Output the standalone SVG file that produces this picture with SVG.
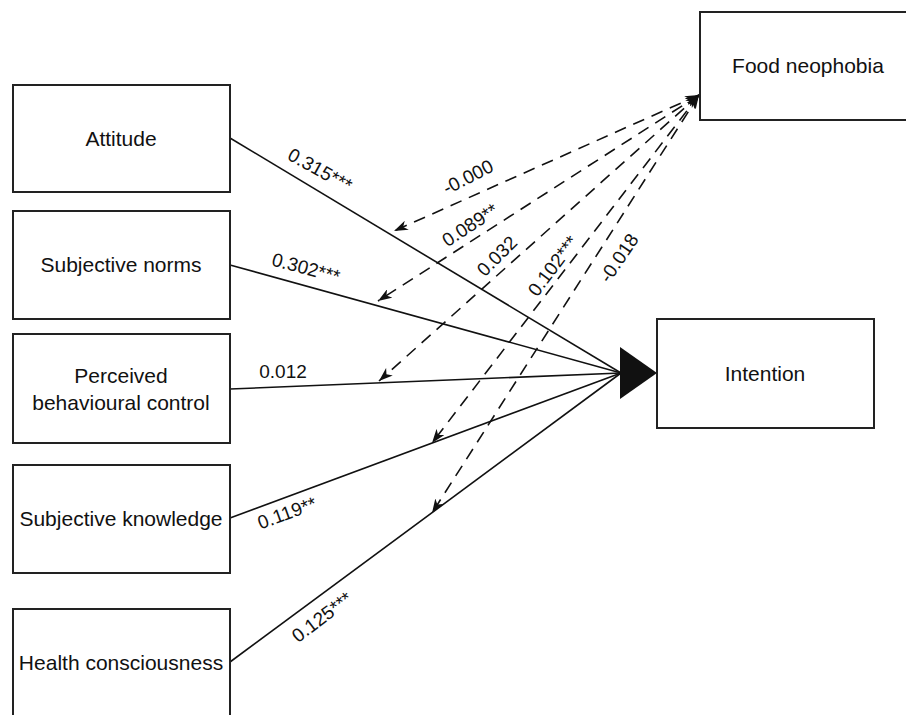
<svg xmlns="http://www.w3.org/2000/svg" width="906" height="715" viewBox="0 0 906 715">
<style>
.box{fill:#fff;stroke:#222;stroke-width:2}
.t{font-family:"Liberation Sans",Arial,sans-serif;font-size:21px;fill:#111;text-anchor:middle}
.l{font-family:"Liberation Sans",Arial,sans-serif;font-size:19px;fill:#111;text-anchor:middle;dominant-baseline:central}
.s{fill:none;stroke:#111;stroke-width:1.6}
.d{fill:none;stroke:#111;stroke-width:1.6;stroke-dasharray:12 8}
</style>
<defs>
<marker id="ah" viewBox="0 0 14 10" refX="14" refY="5" markerWidth="14" markerHeight="10" markerUnits="userSpaceOnUse" orient="auto-start-reverse">
<path d="M0,0 L14,5 L0,10 L4,5 Z" fill="#111"/>
</marker>
</defs>
<rect width="906" height="715" fill="#fff"/>
<g id="connectors">
<path class="s" d="M230,138 L621,373"/>
<path class="s" d="M230,265 L621,373"/>
<path class="s" d="M230,389 L621,373"/>
<path class="s" d="M230,518 L621,373"/>
<path class="s" d="M230,662 L621,373"/>
<polygon points="620,347 657,373 620,399" fill="#111"/>
<path class="d" d="M699,95 L394,231" marker-start="url(#ah)" marker-end="url(#ah)"/>
<path class="d" d="M699,95 L378,301" marker-start="url(#ah)" marker-end="url(#ah)"/>
<path class="d" d="M699,95 L379,381" marker-start="url(#ah)" marker-end="url(#ah)"/>
<path class="d" d="M699,95 L432,443" marker-start="url(#ah)" marker-end="url(#ah)"/>
<path class="d" d="M699,95 L432,513" marker-start="url(#ah)" marker-end="url(#ah)"/>
<text class="l" transform="translate(320,170) rotate(29)">0.315***</text>
<text class="l" transform="translate(306,268) rotate(15)">0.302***</text>
<text class="l" x="283" y="371">0.012</text>
<text class="l" transform="translate(287,513) rotate(-20)">0.119**</text>
<text class="l" transform="translate(322,617) rotate(-37)">0.125***</text>
<text class="l" transform="translate(468,177) rotate(-27)">-0.000</text>
<text class="l" transform="translate(470,225) rotate(-33)">0.089**</text>
<text class="l" transform="translate(497,256) rotate(-45)">0.032</text>
<text class="l" transform="translate(553,266) rotate(-53)">0.102***</text>
<text class="l" transform="translate(619,258) rotate(-56)">-0.018</text>
</g>
<g id="attitude"><rect class="box" x="13" y="85" width="217" height="107"/><text class="t" x="121" y="146">Attitude</text></g>
<g id="subjective-norms"><rect class="box" x="13" y="211" width="217" height="108"/><text class="t" x="121" y="272">Subjective norms</text></g>
<g id="pbc"><rect class="box" x="13" y="334" width="217" height="109"/><text class="t" x="121" y="383">Perceived</text><text class="t" x="121" y="410">behavioural control</text></g>
<g id="subjective-knowledge"><rect class="box" x="13" y="465" width="217" height="108"/><text class="t" x="121" y="526">Subjective knowledge</text></g>
<g id="health-consciousness"><rect class="box" x="13" y="609" width="217" height="108"/><text class="t" x="121" y="670">Health consciousness</text></g>
<g id="food-neophobia"><rect class="box" x="700" y="12" width="217" height="108"/><text class="t" x="808" y="73">Food neophobia</text></g>
<g id="intention"><rect class="box" x="657" y="319" width="217" height="109"/><text class="t" x="765" y="381">Intention</text></g>
</svg>
